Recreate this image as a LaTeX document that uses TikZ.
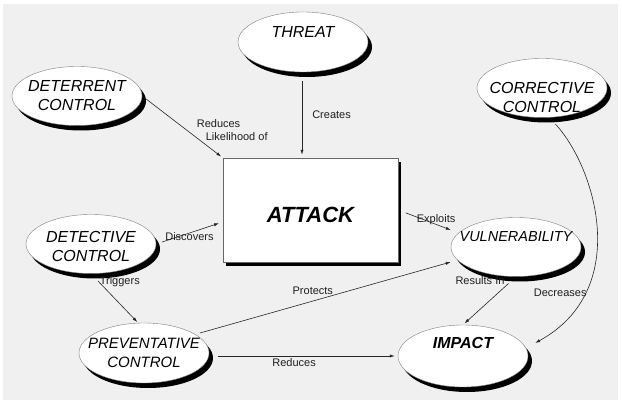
\documentclass[tikz,border=0pt]{standalone}
\usepackage{fontspec}
\setmainfont{Liberation Sans}
\usetikzlibrary{arrows.meta,calc,positioning,shapes.geometric,shadows}
\begin{document}
\begin{tikzpicture}[x=1pt,y=-1pt,>={Latex[length=5pt,width=3.2pt]},
  oval/.style={ellipse,draw=black!50,thin,fill=white,minimum width=130pt,minimum height=59pt,inner sep=0pt,
    drop shadow={shadow xshift=4pt,shadow yshift=-5pt,fill=black,opacity=1}},
  ovaltxt/.style={align=center,inner sep=0pt,font=\fontsize{16}{19}\selectfont\itshape},
  lbl/.style={inner sep=0pt,text=black!88,font=\fontsize{11}{13}\selectfont},
  arr/.style={->,black!85,line width=0.6pt}]
\useasboundingbox (0,0) rectangle (622,403);
\fill[black!6] (3,4) rectangle (618,400);
% concepts
\node[oval,minimum height=60pt] (threat) at (303,42) {};
\node[ovaltxt] (threat-t) at ([yshift=10pt]threat.center) {THREAT};
\node[oval] (deterrent) at (77,96) {};
\node[ovaltxt] (deterrent-t) at (deterrent.center) {DETERRENT\\CONTROL};
\node[oval] (corrective) at (542,88) {};
\node[ovaltxt] (corrective-t) at ([yshift=-9pt]corrective.center) {CORRECTIVE\\CONTROL};
\node[draw=black!60,thin,fill=white,minimum width=175pt,minimum height=104pt,
  drop shadow={shadow xshift=3pt,shadow yshift=-4pt,fill=black,opacity=1}] (attack) at (310.5,210) {};
\node[inner sep=0pt,font=\fontsize{22}{26}\selectfont\bfseries\itshape] (attack-t) at ([yshift=-5pt]attack.center) {ATTACK};
\node[oval] (detective) at (91,244) {};
\node[ovaltxt] (detective-t) at ([yshift=-2pt]detective.center) {DETECTIVE\\CONTROL};
\node[oval,minimum height=60pt] (preventative) at (144,353) {};
\node[ovaltxt,font=\fontsize{15}{19}\selectfont\itshape] (preventative-t) at (preventative.center) {PREVENTATIVE\\CONTROL};
\node[oval] (vulnerability) at (516,247) {};
\node[ovaltxt,font=\fontsize{14.5}{19}\selectfont\itshape] (vulnerability-t) at ([yshift=10pt]vulnerability.center) {VULNERABILITY};
\node[oval,minimum height=62pt] (impact) at (463,356) {};
\node[ovaltxt,font=\fontsize{16}{19}\selectfont\bfseries\itshape] (impact-t) at ([yshift=13pt]impact.center) {IMPACT};
% relations
\draw[arr,shorten <=5pt,shorten >=2pt] (deterrent.east) -- node[lbl,pos=.55,anchor=west,xshift=10pt,align=left]{Reduces\\\hspace{9pt}Likelihood of} (attack.north west);
\draw[arr,shorten <=9pt,shorten >=3pt] ([xshift=-1pt]threat.south) -- node[lbl,pos=.5,right=10pt]{Creates} ([xshift=-1pt]threat.south |- attack.north);
\draw[arr,shorten <=6pt,shorten >=4pt] (detective.east) -- node[lbl,pos=.5,yshift=-4pt]{Discovers} ([yshift=-12pt]attack.west);
\draw[arr,shorten <=8pt] (attack.east) -- node[lbl,pos=.72,yshift=5pt]{Exploits} ([yshift=17pt]vulnerability.west);
\draw[arr,shorten <=10pt,shorten >=1pt] (detective.south) -- node[lbl,pos=.16,right=1pt]{Triggers} ([xshift=-6pt]preventative.north);
\draw[arr,shorten <=5pt] (preventative.20) -- node[lbl,pos=.46,above=6pt]{Protects} ([yshift=-15pt]vulnerability.west);
\draw[arr,shorten <=9pt,shorten >=3pt] (preventative.east |- impact.west) -- node[lbl,pos=.45,below=2pt]{Reduces} (impact.west);
\draw[arr,shorten <=10pt,shorten >=2pt] (vulnerability.south) -- node[lbl,pos=.08,left=7pt]{Results In} (impact.north);
\draw[arr,shorten <=9pt] (corrective.-76) .. controls (596,168) and (632,290) .. node[lbl,pos=.75,left=-2pt]{Decreases} ([shift={(7pt,13pt)}]impact.east);
\end{tikzpicture}
\end{document}
